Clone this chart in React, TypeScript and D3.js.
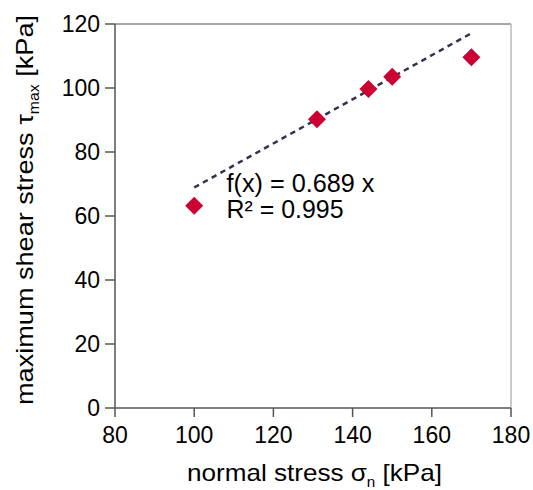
import React from "react";
import * as d3 from "d3";

const normalStress = [100, 131, 144, 150, 170];
const shearStress = [63.2, 90.2, 99.7, 103.5, 109.6];
const xTicks = [80, 100, 120, 140, 160, 180];
const yTicks = [0, 20, 40, 60, 80, 100, 120];
const slope = 0.689;
const rSquared = 0.995;
const trendRange = [100, 170];

const W = 533;
const H = 490;
const M = { left: 115, right: 22, top: 24, bottom: 82 };

export default function App() {
  const x = d3.scaleLinear().domain([80, 180]).range([M.left, W - M.right]);
  const y = d3.scaleLinear().domain([0, 120]).range([H - M.bottom, M.top]);
  const font = "'Liberation Sans', Arial, sans-serif";
  const diamond = d3.symbol().type(d3.symbolDiamond2).size(206)();
  const line = d3
    .line<number>()
    .x((d) => x(d))
    .y((d) => y(slope * d));
  const x0 = M.left, x1 = W - M.right, y0 = H - M.bottom, y1 = M.top;
  return (
    <svg width={W} height={H} style={{ position: "absolute", left: 0, top: 0, background: "#fff" }}>
      <rect x={0} y={0} width={W} height={H} fill="#fff" />
      <line x1={x0} x2={x1} y1={y1} y2={y1} stroke="#8a8a8a" strokeWidth={1.5} />
      <line x1={x1} x2={x1} y1={y1} y2={y0} stroke="#aaa" strokeWidth={1.2} />
      <line x1={x0} x2={x1} y1={y0} y2={y0} stroke="#555" strokeWidth={1.5} />
      <line x1={x0} x2={x0} y1={y1} y2={y0} stroke="#555" strokeWidth={1.5} />
      {yTicks.map((t) => (
        <g key={"y" + t}>
          <line x1={x0 - 10} x2={x0} y1={y(t)} y2={y(t)} stroke="#555" strokeWidth={1.5} />
          <text x={x0 - 15} y={y(t)} dy="0.35em" textAnchor="end" fontFamily={font} fontSize={23} fill="#000">
            {t}
          </text>
        </g>
      ))}
      {xTicks.map((t) => (
        <g key={"x" + t}>
          <line x1={x(t)} x2={x(t)} y1={y0} y2={y0 + 9} stroke="#555" strokeWidth={1.5} />
          <text x={x(t)} y={y0 + 35} textAnchor="middle" fontFamily={font} fontSize={23} fill="#000">
            {t}
          </text>
        </g>
      ))}
      <path
        d={line(trendRange) || ""}
        fill="none"
        stroke="#33334f"
        strokeWidth={2.5}
        strokeDasharray="5.5,4.5"
      />
      {normalStress.map((v, i) => (
        <path key={i} d={diamond || ""} transform={`translate(${x(v)},${y(shearStress[i])})`} fill="#cc0033" />
      ))}
      <text x={226.5} y={191.7} fontFamily={font} fontSize={25} fill="#000" textLength={148} lengthAdjust="spacingAndGlyphs">
        f(x) = {slope} x
      </text>
      <text x={226.5} y={218.3} fontFamily={font} fontSize={25} fill="#000" textLength={117} lengthAdjust="spacingAndGlyphs">
        R² = {rSquared}
      </text>
      <text x={187} y={481} fontFamily={font} fontSize={24} fill="#000" textLength={255} lengthAdjust="spacingAndGlyphs">
        normal stress σ<tspan fontSize={14} dy={6}>n</tspan>
        <tspan dy={-6}> [kPa]</tspan>
      </text>
      <text
        transform={`translate(33,405) rotate(-90)`}
        fontFamily={font}
        fontSize={24}
        fill="#000"
        textLength={390}
        lengthAdjust="spacingAndGlyphs"
      >
        maximum shear stress τ<tspan fontSize={14} dy={6}>max</tspan>
        <tspan dy={-6}> [kPa]</tspan>
      </text>
    </svg>
  );
}
